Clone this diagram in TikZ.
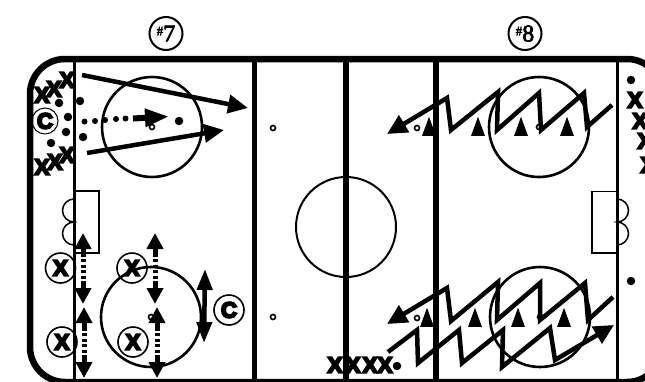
\documentclass[tikz,border=0pt]{standalone}
\usepackage{fontspec}
\setmainfont{Liberation Serif}
\setsansfont{Liberation Sans}
\newfontfamily\playerfont[BoldFeatures={FakeBold=9}]{Liberation Sans}
\newfontfamily\tagfont[FakeBold=3]{Liberation Serif}
\usepackage{xcolor}
\usetikzlibrary{arrows.meta,shapes.geometric}
\begin{document}
\begin{tikzpicture}[
  x=1pt, y=-1pt,
  board/.style={black, line width=6.5pt},
  blueline/.style={black, line width=5.5pt},
  goalline/.style={black, line width=3pt},
  faceoff/.style={circle, draw=black, line width=2.6pt, minimum size=100pt, inner sep=0pt},
  spot/.style={circle, draw=black, line width=1.6pt, minimum size=5pt, inner sep=0pt},
  puck/.style={circle, fill=black, minimum size=8.5pt, inner sep=0pt},
  player/.style={font=\playerfont\bfseries\fontsize{22}{22}\selectfont, inner sep=0pt},
  ringed/.style={player, circle, draw=black, line width=1.6pt, minimum size=30pt},
  cone/.style={isosceles triangle, isosceles triangle apex angle=40, shape border rotate=90, fill=black,
    minimum height=19pt, inner sep=0pt, anchor=south},
  tag/.style={circle, draw=black, line width=2pt, minimum size=33pt, inner sep=0pt, font=\tagfont},
  skate/.style={line width=4.5pt, -{Triangle[length=20pt,width=18pt]}},
  zigzag/.style={line width=4.5pt, miter limit=10, -{Triangle[length=20pt,width=19pt]}},
  shuttle/.style={line width=5pt, dash pattern=on 3pt off 2.5pt,
    {Triangle[length=16pt,width=16pt]}-{Triangle[length=16pt,width=16pt]}}
]
  \clip (0,0) rectangle (645,381);
  \fill[white] (0,0) rectangle (645,381);

  % rink
  \draw[board, rounded corners=35pt] (30,59) rectangle (662,382);
  \foreach \x in {254.5,346,436}{ \draw[blueline] (\x,59) -- (\x,381); }
  \draw[goalline] (74,59) -- (74,381);
  \draw[goalline] (617,59) -- (617,381);
  \foreach \n/\x/\y in {ulc/152/127,llc/151/317,urc/539/127,lrc/540/317}{ \node[faceoff] (\n) at (\x,\y) {}; }
  \node[faceoff, line width=2pt] (centre) at (346,227) {};
  \foreach \n/\x/\y in {sa/273/128,sb/273/317,sc/417/128,sd/417/318,se/152/127,sf/151/317,sg/539/127,sh/540/317}{ \node[spot] (\n) at (\x,\y) {}; }

  % goals
  \draw[line width=1.5pt] (74,191) rectangle (99,253);
  \draw[line width=1.5pt] (617,191.5) rectangle (592,253);
  \draw[line width=1.5pt] (74,199) arc (-90:-270:11.5) arc (-90:-270:11.5);
  \draw[line width=1.5pt] (617,199) arc (-90:90:11.5) arc (-90:90:11.5);

  % #7
  \node[tag] (seven) at (166,33.5) {\raisebox{4pt}{\fontsize{13}{13}\selectfont\#}\fontsize{24}{24}\selectfont\raisebox{-2pt}{7}};
  \foreach \n/\x/\y in {xa/42/95,xb/54/89,xc/67/80,xd/42/167,xe/55/162,xf/67/155}{ \node[player] (\n) at (\x,\y) {X}; }
  \foreach \n/\x/\y in {pa/59/103,pb/80/101,pc/68/117,pd/66/132,pe/83/137,pf/51/143,pg/179/121}{ \node[puck] (\n) at (\x,\y) {}; }
  \node[ringed, line width=1pt, minimum size=26pt] (coachA) at (45,121) {C};
  \foreach \x/\y in {84.5/121.5,95/121,105/120,116/119,125.5/118.5}{ \fill (\x,\y) circle (3pt); }
  \draw[line width=6pt, -{Triangle[length=24pt,width=17pt]}] (133,118.5) -- (169,116.5);
  \draw[skate] (82,75) -- (248,108);
  \draw[skate] (87,153) -- (224,130);

  % shuttle pairs
  \foreach \n/\x/\y in {xg/60.5/268,xh/62/342,xi/132/268,xj/133/342}{ \node[ringed] (\n) at (\x,\y) {X}; }
  \node[ringed] (coachB) at (229,310) {C};
  \foreach \x/\ya/\yb in {83/233/304,84/307/378,155/233/304,157/307/378}{
    \draw[shuttle] (\x,\ya) -- (\x,\yb);
    \draw[line width=5pt] (\x,{\ya+12}) -- (\x,{\ya+22});
    \draw[line width=5pt] (\x,{\yb-12}) -- (\x,{\yb-22});
  }
  \draw[line width=4.5pt, {Triangle[length=21pt,width=15pt]}-{Triangle[length=21pt,width=15pt]}] (205,269) -- (204,343);

  % #8
  \node[tag] (eight) at (525,33.5) {\raisebox{4pt}{\fontsize{13}{13}\selectfont\#}\fontsize{24}{24}\selectfont\raisebox{-2pt}{8}};
  \foreach \n/\x in {ca/429,cb/478,cc/521,cd/567}{ \node[cone] (\n) at (\x,136) {}; }
  \foreach \n/\x in {ce/427,cf/475,cg/518,ch/564}{ \node[cone] (\n) at (\x,327) {}; }
  \draw[zigzag] (612,105) -- (587,127) -- (584,93) -- (541,130) -- (539,93) -- (497,130) -- (498,92)
    -- (451,130) -- (447,98) -- (387,134);
  \draw[zigzag] (613,297) -- (588,320) -- (585,283) -- (540,320) -- (540,283) -- (497,320) -- (498,282)
    -- (451,321) -- (447,288) -- (387,324);
  \draw[zigzag] (388,352) -- (417,330) -- (418,363) -- (459,330) -- (462,363) -- (503,330) -- (502,367)
    -- (550,328) -- (555,360) -- (614,325);

  \foreach \n/\x/\y in {xk/335/365,xl/353/365,xm/370/365,xn/385/365}{ \node[player] (\n) at (\x,\y) {X}; }
  \foreach \n/\x/\y in {xo/635/100,xp/640/121,xq/645/141,xr/648/165}{ \node[player] (\n) at (\x,\y) {X}; }
  \foreach \n/\x/\y in {pm/397/366,pn/631/80,po/631/281}{ \node[puck] (\n) at (\x,\y) {}; }
\end{tikzpicture}
\end{document}
